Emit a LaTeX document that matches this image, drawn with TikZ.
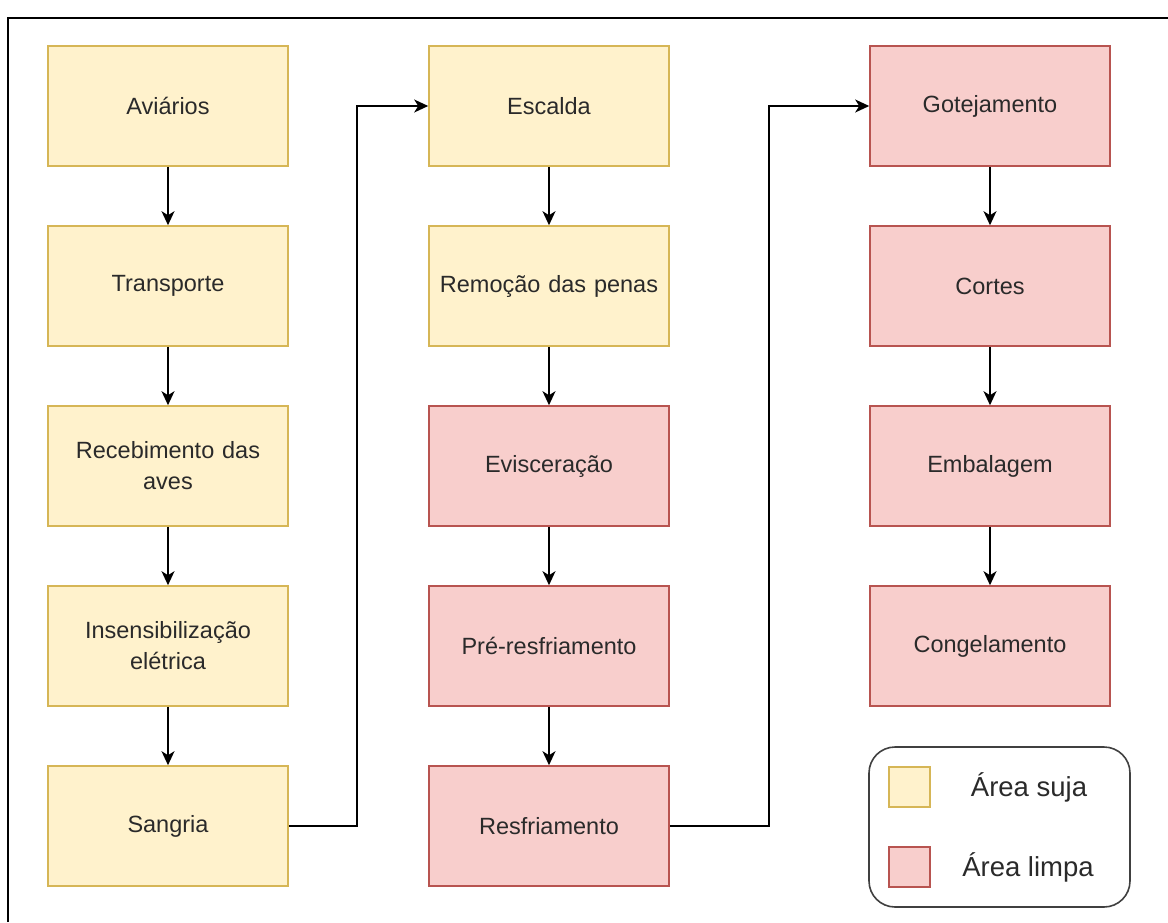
\documentclass[tikz,border=0pt]{standalone}
\usepackage{fontspec}
\setmainfont{Liberation Sans}
\usetikzlibrary{arrows.meta}
\definecolor{yfill}{HTML}{FFF2CC}
\definecolor{ystroke}{HTML}{D6B656}
\definecolor{rfill}{HTML}{F8CECC}
\definecolor{rstroke}{HTML}{B85450}
\definecolor{txt}{HTML}{2A2A2A}
\begin{document}
\begin{tikzpicture}[x=1pt,y=-1pt,
  boxbase/.style={minimum width=240pt,minimum height=120pt,line width=1.6pt,inner sep=0pt,
    align=center,text width=230pt,font=\fontsize{23.5}{31}\selectfont,text=txt},
  dirty/.style={boxbase,fill=yfill,draw=ystroke},
  clean/.style={boxbase,fill=rfill,draw=rstroke},
  conn/.style={line width=1.6pt,-{Stealth[length=14pt,width=13pt,inset=4pt]}},
  swatch/.style={minimum width=41pt,minimum height=40pt,inner sep=0pt,line width=1.6pt},
  legtext/.style={font=\fontsize{27.5}{33}\selectfont,text=txt}]
\useasboundingbox (0,0) rectangle (1168,922);
\draw[line width=2.5pt] (8,922) -- (8,18) -- (1168,18);
% column 1
\node[dirty] (a1) at (168,106) {Aviários};
\node[dirty] (a2) at (168,286) {Transporte};
\node[dirty] (a3) at (168,466) {Recebimento das\\aves};
\node[dirty] (a4) at (168,646) {Insensibilização\\elétrica};
\node[dirty] (a5) at (168,826) {Sangria};
% column 2
\node[dirty] (b1) at (549,106) {Escalda};
\node[dirty] (b2) at (549,286) {Remoção das penas};
\node[clean] (b3) at (549,466) {Evisceração};
\node[clean] (b4) at (549,646) {Pré-resfriamento};
\node[clean] (b5) at (549,826) {Resfriamento};
% column 3
\node[clean] (c1) at (990,106) {Gotejamento};
\node[clean] (c2) at (990,286) {Cortes};
\node[clean] (c3) at (990,466) {Embalagem};
\node[clean] (c4) at (990,646) {Congelamento};
% arrows
\draw[conn] (a1) -- (a2);
\draw[conn] (a2) -- (a3);
\draw[conn] (a3) -- (a4);
\draw[conn] (a4) -- (a5);
\draw[conn] (b1) -- (b2);
\draw[conn] (b2) -- (b3);
\draw[conn] (b3) -- (b4);
\draw[conn] (b4) -- (b5);
\draw[conn] (c1) -- (c2);
\draw[conn] (c2) -- (c3);
\draw[conn] (c3) -- (c4);
\coordinate (k1) at (357,826);
\coordinate (k2) at (769,826);
\draw[conn] (a5.east) -- (k1) |- (b1.west);
\draw[conn] (b5.east) -- (k2) |- (c1.west);
% legend
\node[draw=black!75,line width=1.6pt,rounded corners=26pt,minimum width=261pt,minimum height=160pt,inner sep=0pt] (leg) at (999.5,827) {};
\node[swatch,fill=yfill,draw=ystroke] (s1) at (909.5,787) {};
\node[swatch,fill=rfill,draw=rstroke] (s2) at (909.5,867) {};
\node[legtext] (l1) at (1029,787) {Área suja};
\node[legtext] (l2) at (1028,867) {Área limpa};
\end{tikzpicture}
\end{document}
